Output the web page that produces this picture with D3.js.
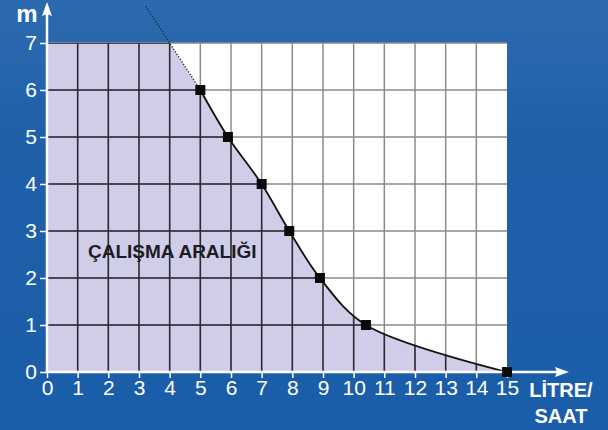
<!DOCTYPE html>
<html>
<head>
<meta charset="utf-8">
<script src="https://cdn.jsdelivr.net/npm/d3@7"></script>
<style>
  body { margin: 0; background: #1d5fa8; }
  svg { display: block; }
</style>
</head>
<body>
<div id="main"></div>
<script>
// pump curve: flow (litre/hour) vs head (m)
var flow = [5, 5.9, 7, 7.9, 8.9, 10.4, 15];
var head = [6, 5, 4, 3, 2, 1, 0];
var dottedFlow = [5, 3.2];
var dottedHead = [6, 7.8];
var xTicks = d3.range(0, 16);
var yTicks = d3.range(0, 8);
var areaLabel = "ÇALIŞMA ARALIĞI";
var yTitle = "m";
var xTitle = ["LİTRE/", "SAAT"];

var width = 608, height = 430;

var x = d3.scaleLinear().domain([0, 15]).range([47, 507]);
var y = d3.scaleLinear().domain([0, 7]).range([372, 43]);

var svg = d3.select("#main")
    .append("svg")
    .attr("width", width)
    .attr("height", height);

var defs = svg.append("defs");
var grad = defs.append("linearGradient")
    .attr("id", "bg")
    .attr("x1", 0).attr("y1", 0).attr("x2", 0).attr("y2", 1);
grad.append("stop").attr("offset", "0%").attr("stop-color", "#2b6aae");
grad.append("stop").attr("offset", "12%").attr("stop-color", "#2867ad");
grad.append("stop").attr("offset", "30%").attr("stop-color", "#1f60a9");
grad.append("stop").attr("offset", "100%").attr("stop-color", "#1a5da8");

svg.append("rect")
    .attr("width", width)
    .attr("height", height)
    .attr("fill", "url(#bg)");

// plot area
svg.append("rect")
    .attr("x", x(0))
    .attr("y", y(7))
    .attr("width", x(15) - x(0))
    .attr("height", y(0) - y(7))
    .attr("fill", "#ffffff");

// shaded working range: under the curve, capped at 7
var pts = flow.map(function(d, i) { return [d, head[i]]; });
var curve = d3.line()
    .x(function(d) { return x(d[0]); })
    .y(function(d) { return y(d[1]); })
    .curve(d3.curveCatmullRom.alpha(0.5));

// curve(pts) starts with "M..."; swap it for "L" to continue the outline
var areaPath = "M" + x(0) + "," + y(0)
    + "L" + x(0) + "," + y(7)
    + "L" + x(4) + "," + y(7)
    + "L" + curve(pts).slice(1)
    + "L" + x(15) + "," + y(0) + "Z";

defs.append("clipPath").attr("id", "shade")
    .append("path").attr("d", areaPath);

svg.append("path")
    .attr("d", areaPath)
    .attr("fill", "#cfcde7");

// grid
var grid = svg.append("g");
function drawGrid(g, color) {
    g.selectAll("line.v")
        .data(xTicks.slice(1, 15))
        .enter().append("line")
        .attr("x1", function(d) { return x(d); })
        .attr("x2", function(d) { return x(d); })
        .attr("y1", y(0))
        .attr("y2", y(7))
        .attr("stroke", color)
        .attr("stroke-width", 1.5);
    g.selectAll("line.h")
        .data(yTicks.slice(1))
        .enter().append("line")
        .attr("x1", x(0))
        .attr("x2", x(15))
        .attr("y1", function(d) { return y(d); })
        .attr("y2", function(d) { return y(d); })
        .attr("stroke", color)
        .attr("stroke-width", 1.5);
}
drawGrid(grid.append("g"), "#8a8a8a");
drawGrid(grid.append("g").attr("clip-path", "url(#shade)"), "#2c2c38");

// dotted extension
svg.append("line")
    .attr("x1", x(dottedFlow[0])).attr("y1", y(dottedHead[0]))
    .attr("x2", x(dottedFlow[1])).attr("y2", y(dottedHead[1]))
    .attr("stroke", "#222")
    .attr("stroke-width", 1.4)
    .attr("stroke-dasharray", "1.2,1.8");

// curve
svg.append("path")
    .attr("d", curve(pts))
    .attr("fill", "none")
    .attr("stroke", "#111")
    .attr("stroke-width", 1.8);

// axes
var font = "'Liberation Sans', Arial, sans-serif";

var xAxis = svg.append("g")
    .attr("transform", "translate(0," + y(0) + ")")
    .call(d3.axisBottom(x).tickValues(xTicks).tickSize(6).tickPadding(2).tickFormat(d3.format("d")));
xAxis.select(".domain").remove();
xAxis.selectAll("line").attr("stroke", "#fff").attr("stroke-width", 1.5);
xAxis.selectAll("text")
    .attr("fill", "#fff")
    .style("font-family", font)
    .style("font-size", "21px");

var yAxis = svg.append("g")
    .attr("transform", "translate(" + x(0) + ",0)")
    .call(d3.axisLeft(y).tickValues(yTicks).tickSize(7).tickPadding(3).tickFormat(d3.format("d")));
yAxis.select(".domain").remove();
yAxis.selectAll("line").attr("stroke", "#fff").attr("stroke-width", 1.5);
yAxis.selectAll("text")
    .attr("fill", "#fff")
    .style("font-family", font)
    .style("font-size", "21px");

// axis lines with arrows
svg.append("line")
    .attr("x1", x(0)).attr("y1", y(0))
    .attr("x2", 560).attr("y2", y(0))
    .attr("stroke", "#fff").attr("stroke-width", 2.5);
svg.append("path")
    .attr("d", "M569," + y(0) + "L555," + (y(0) - 5) + "L557," + y(0) + "L555," + (y(0) + 5) + "Z")
    .attr("fill", "#fff");

svg.append("line")
    .attr("x1", x(0)).attr("y1", y(0))
    .attr("x2", x(0)).attr("y2", 12)
    .attr("stroke", "#fff").attr("stroke-width", 2.5);
svg.append("path")
    .attr("d", "M" + x(0) + ",2L" + (x(0) - 5) + ",16L" + x(0) + ",14L" + (x(0) + 5) + ",16Z")
    .attr("fill", "#fff");

// markers sit on top of the axis line
svg.selectAll("rect.pt")
    .data(pts)
    .enter().append("rect")
    .attr("class", "pt")
    .attr("x", function(d) { return x(d[0]) - 5; })
    .attr("y", function(d) { return y(d[1]) - 5; })
    .attr("width", 10)
    .attr("height", 10)
    .attr("fill", "#0a0a0a");

// titles
svg.append("text")
    .attr("x", 27).attr("y", 22)
    .attr("text-anchor", "middle")
    .attr("fill", "#fff")
    .style("font-family", font)
    .style("font-weight", "bold")
    .style("font-size", "24px")
    .text(yTitle);

svg.selectAll("text.xt")
    .data(xTitle)
    .enter().append("text")
    .attr("class", "xt")
    .attr("x", 561)
    .attr("y", function(d, i) { return 397 + i * 26; })
    .attr("text-anchor", "middle")
    .attr("fill", "#fff")
    .style("font-family", font)
    .style("font-weight", "bold")
    .style("font-size", "20px")
    .text(function(d) { return d; });

svg.append("text")
    .attr("x", 88).attr("y", 258)
    .attr("fill", "#1c1c24")
    .style("font-family", font)
    .style("font-weight", "bold")
    .style("font-size", "19px")
    .text(areaLabel);
</script>
</body>
</html>
